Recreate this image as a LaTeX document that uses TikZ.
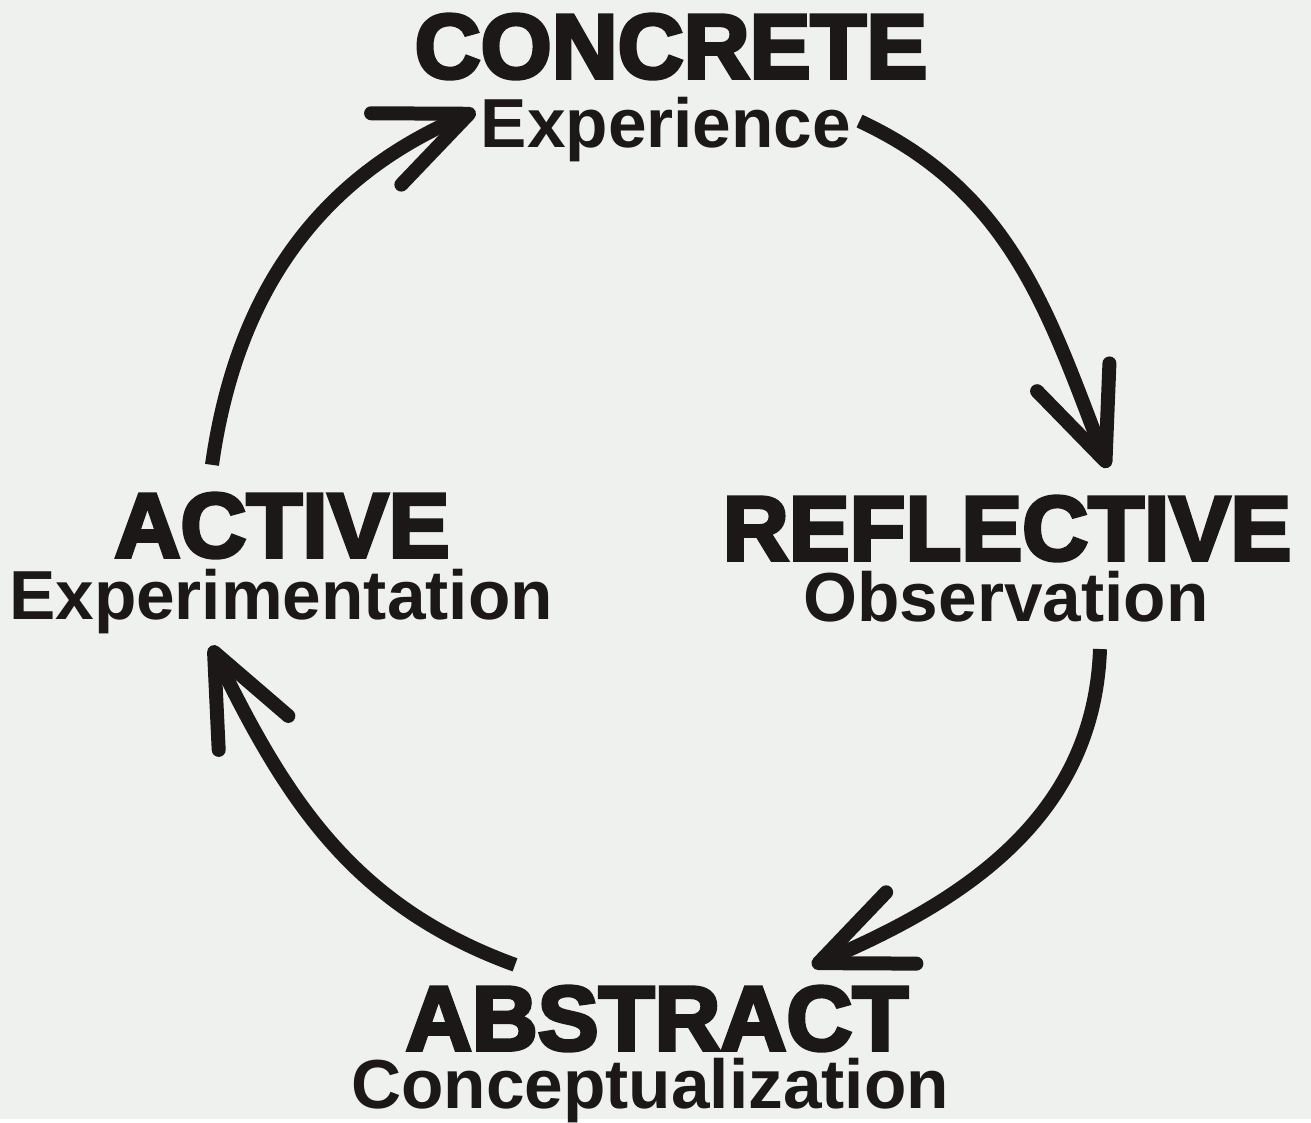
\documentclass[tikz,border=0pt]{standalone}
\usepackage{fontspec}
\setmainfont{Liberation Sans}
\newfontfamily\headfont[FakeBold=4]{Liberation Sans Bold}
\usetikzlibrary{arrows.meta,calc}
\definecolor{paper}{RGB}{239,241,239}
\definecolor{ink}{RGB}{28,24,24}
\tikzset{
  heading/.style={anchor=base, inner sep=0pt, text=ink, font=\headfont\fontsize{52}{52}\selectfont},
  subline/.style={anchor=base, inner sep=0pt, text=ink, font=\bfseries\fontsize{39.5}{40}\selectfont},
  cyclearrow/.style={draw=ink, line width=0.28cm, -{Straight Barb[length=1.8cm,width=1.55cm,round]}}
}
\begin{document}
\begin{tikzpicture}[x=0.02cm,y=0.02cm]

\fill[paper] (0,0) rectangle (1311,1119);

\node[heading] (conc) at (671,1041) {CONCRETE};
\node[subline] (exp) at ([shift={(-5,-70)}]conc.base) {Experience};

\node[heading] (refl) at (1007,559) {REFLECTIVE};
\node[subline] (obs) at ([shift={(-1,-62)}]refl.base) {Observation};

\node[heading] (act) at (282,562) {ACTIVE};
\node[subline] (expm) at ([shift={(-1,-63)}]act.base) {Experimentation};

\node[heading] (abs) at (657,69) {ABSTRACT};
\node[subline] (concep) at ([shift={(-7,-58)}]abs.base) {Conceptualization};

\draw[cyclearrow] ([shift={(8,9)}]exp.east) to[out=-25,in=111] ([shift={(101,28)}]refl.north);
\draw[cyclearrow] ([shift={(94,-26)}]obs.south) to[out=-92,in=23] ([shift={(155,20)}]abs.north);
\draw[cyclearrow] ([shift={(-142,21)}]abs.north) to[out=160,in=-64] ([shift={(-70,-11)}]expm.south);
\draw[cyclearrow] ([shift={(-70,28)}]act.north) to[out=82,in=203] ([shift={(-5,19)}]exp.west);

\end{tikzpicture}
\end{document}
